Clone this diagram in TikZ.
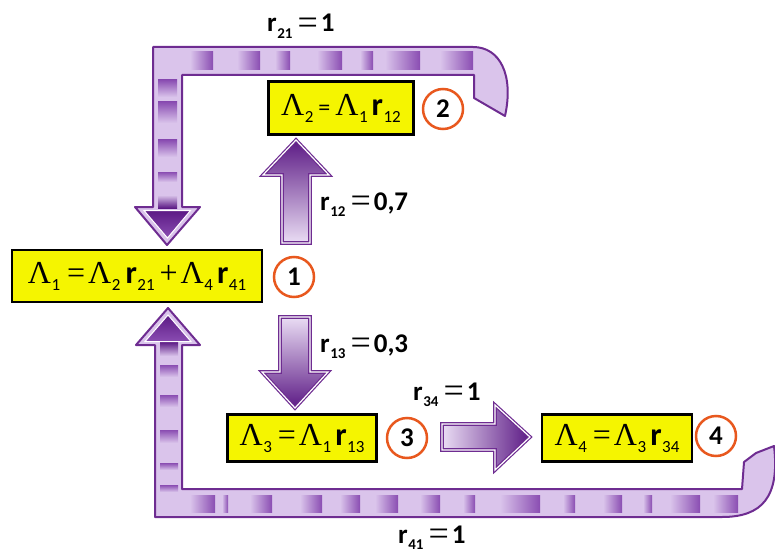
\documentclass[tikz,border=0pt]{standalone}
\usepackage{fontspec}
\newfontfamily\calfont{Carlito}
\newfontfamily\serf{Liberation Serif}
\definecolor{lav}{HTML}{DAC4EB}
\definecolor{lavl}{HTML}{EADDF4}
\definecolor{dpur}{HTML}{6E2C91}
\definecolor{bpur}{HTML}{8A4DB2}
\definecolor{apur}{HTML}{5C1A85}
\definecolor{ybox}{HTML}{F5F500}
\definecolor{orng}{HTML}{E8581E}
\newcommand\LL[1]{{\serf Λ}\kern0.5pt\raisebox{-7pt}{\calfont\fontsize{17}{17}\selectfont #1}}
\newcommand\RR[1]{{\calfont\bfseries r}\kern0.5pt\raisebox{-7pt}{\calfont\fontsize{17}{17}\selectfont #1}}
\newcommand\RL[1]{{\calfont\bfseries r}\kern0.5pt\raisebox{-6.5pt}{\calfont\bfseries\fontsize{15}{15}\selectfont #1}}
\newcommand\EQ{{\serf =}}
\newcommand\PL{{\serf +}}
\newcommand\LEQ{\raisebox{-2.5pt}{\serf\mdseries\fontsize{36}{27}\selectfont =}}
\tikzset{
  eqbox/.style={draw=black, line width=2.2pt, fill=ybox, inner sep=0pt, font=\serf\fontsize{32}{32}\selectfont},
  numc/.style={circle, draw=orng, line width=2.5pt, fill=white, minimum size=40pt, inner sep=0pt, font=\calfont\bfseries\fontsize{27}{27}\selectfont},
  lbl/.style={anchor=base west, inner sep=0pt, font=\calfont\bfseries\fontsize{27}{27}\selectfont},
  band/.style={fill=lav, draw=dpur, line width=2pt, line join=round},
  fat/.style={draw=dpur, double=white, double distance=1.2pt, line width=1.2pt, line join=miter},
  hblk/.style={left color=lav, right color=bpur},
  vblk/.style={top color=bpur, bottom color=lav},
  headin/.style={top color=apur, bottom color=bpur, draw=white, line width=1pt}
}
\begin{document}
\begin{tikzpicture}[x=1pt,y=-1pt]
\useasboundingbox (0,0) rectangle (775,556);
% ---- top L band (r21)
\draw[band] (153,207) -- (153,47) -- (473,47) .. controls (500,47) and (514,75) .. (505,116) -- (474,98) -- (474,75) -- (182,75) -- (182,207) -- (200,207) -- (167,245) -- (135,207) -- cycle;
\foreach \a/\b in {190/213, 237/260, 275/290, 317/342, 360/373, 385/420, 440/473}
  \shade[hblk] (\a,52) rectangle (\b,70);
\foreach \a/\b in {80/97, 102/123, 140/157, 172/182}
  \shade[vblk] (158,\a) rectangle (177,\b);
\shade[top color=lav, bottom color=apur] (158,195) rectangle (177,208);
\draw[headin] (144,210.5) -- (190.5,210.5) -- (167.5,238) -- cycle;
% ---- bottom L band (r41)
\draw[band] (182,345) -- (182,489) -- (742,489) -- (744,462) -- (756,453) -- (774,446) .. controls (780,497) and (762,517) .. (722,517) -- (155,517) -- (155,345) -- (136,345) -- (168,308) -- (200,345) -- cycle;
\foreach \a/\b in {190/215, 222/228, 250/272, 300/322, 340/360, 375/398, 420/440, 463/475, 500/540, 563/575, 603/622, 643/652, 670/700, 713/738}
  \shade[hblk] (\a,495) rectangle (\b,512);
\foreach \a/\b in {365/377, 395/407, 430/443, 463/470, 485/492}
  \shade[vblk] (160,\a) rectangle (178,\b);
\shade[top color=apur, bottom color=lav] (160,342) rectangle (178,356);
\draw[headin] (145,341.5) -- (191,341.5) -- (168,315) -- cycle;
% ---- straight fat arrows
\draw[fat, top color=apur, bottom color=lavl] (282,243) -- (282,175) -- (263,175) -- (296,140) -- (329,175) -- (310,175) -- (310,243) -- cycle;
\draw[fat, top color=lavl, bottom color=apur] (280,317) -- (280,372) -- (262,372) -- (295,408) -- (328,372) -- (310,372) -- (310,317) -- cycle;
\draw[fat, left color=lavl, right color=apur] (442,424) -- (495,424) -- (495,405) -- (530,437) -- (495,470) -- (495,450) -- (442,450) -- cycle;
% ---- equation boxes
\node[eqbox, minimum width=250pt, minimum height=52pt] (b1) at (137,276)
  {\LL{1}\hspace{7pt}\EQ\hspace{3pt}\LL{2}\hspace{5pt}\RR{21}\hspace{5pt}\PL\hspace{3pt}\LL{4}\hspace{4pt}\RR{41}};
\node[eqbox, minimum width=145pt, minimum height=53pt] (b2) at (341,108)
  {\LL{2}\hspace{5pt}{\calfont\fontsize{24}{24}\selectfont =}\hspace{5pt}\LL{1}\hspace{4pt}\RR{12}};
\node[eqbox, minimum width=149pt, minimum height=47pt] (b3) at (302,438)
  {\LL{3}\hspace{6pt}\EQ\hspace{3pt}\LL{1}\hspace{4pt}\RR{13}};
\node[eqbox, minimum width=150pt, minimum height=47pt] (b4) at (617,438)
  {\LL{4}\hspace{6pt}\EQ\hspace{3pt}\LL{3}\hspace{4pt}\RR{34}};
% ---- numbered circles
\node[numc] (c1) at (294,277) {1};
\node[numc] (c2) at (443,109) {2};
\node[numc] (c3) at (407,438) {3};
\node[numc] (c4) at (716,436) {4};
% ---- labels
\node[lbl] (l21) at (267,32) {\RL{21}\hspace{5pt}\LEQ\hspace{3pt}1};
\node[lbl] (l12) at (320,210) {\RL{12}\hspace{5pt}\LEQ\hspace{3pt}0,7};
\node[lbl] (l13) at (320,352) {\RL{13}\hspace{5pt}\LEQ\hspace{3pt}0,3};
\node[lbl] (l34) at (413,400) {\RL{34}\hspace{5pt}\LEQ\hspace{3pt}1};
\node[lbl] (l41) at (398,543) {\RL{41}\hspace{5pt}\LEQ\hspace{3pt}1};
\end{tikzpicture}
\end{document}
